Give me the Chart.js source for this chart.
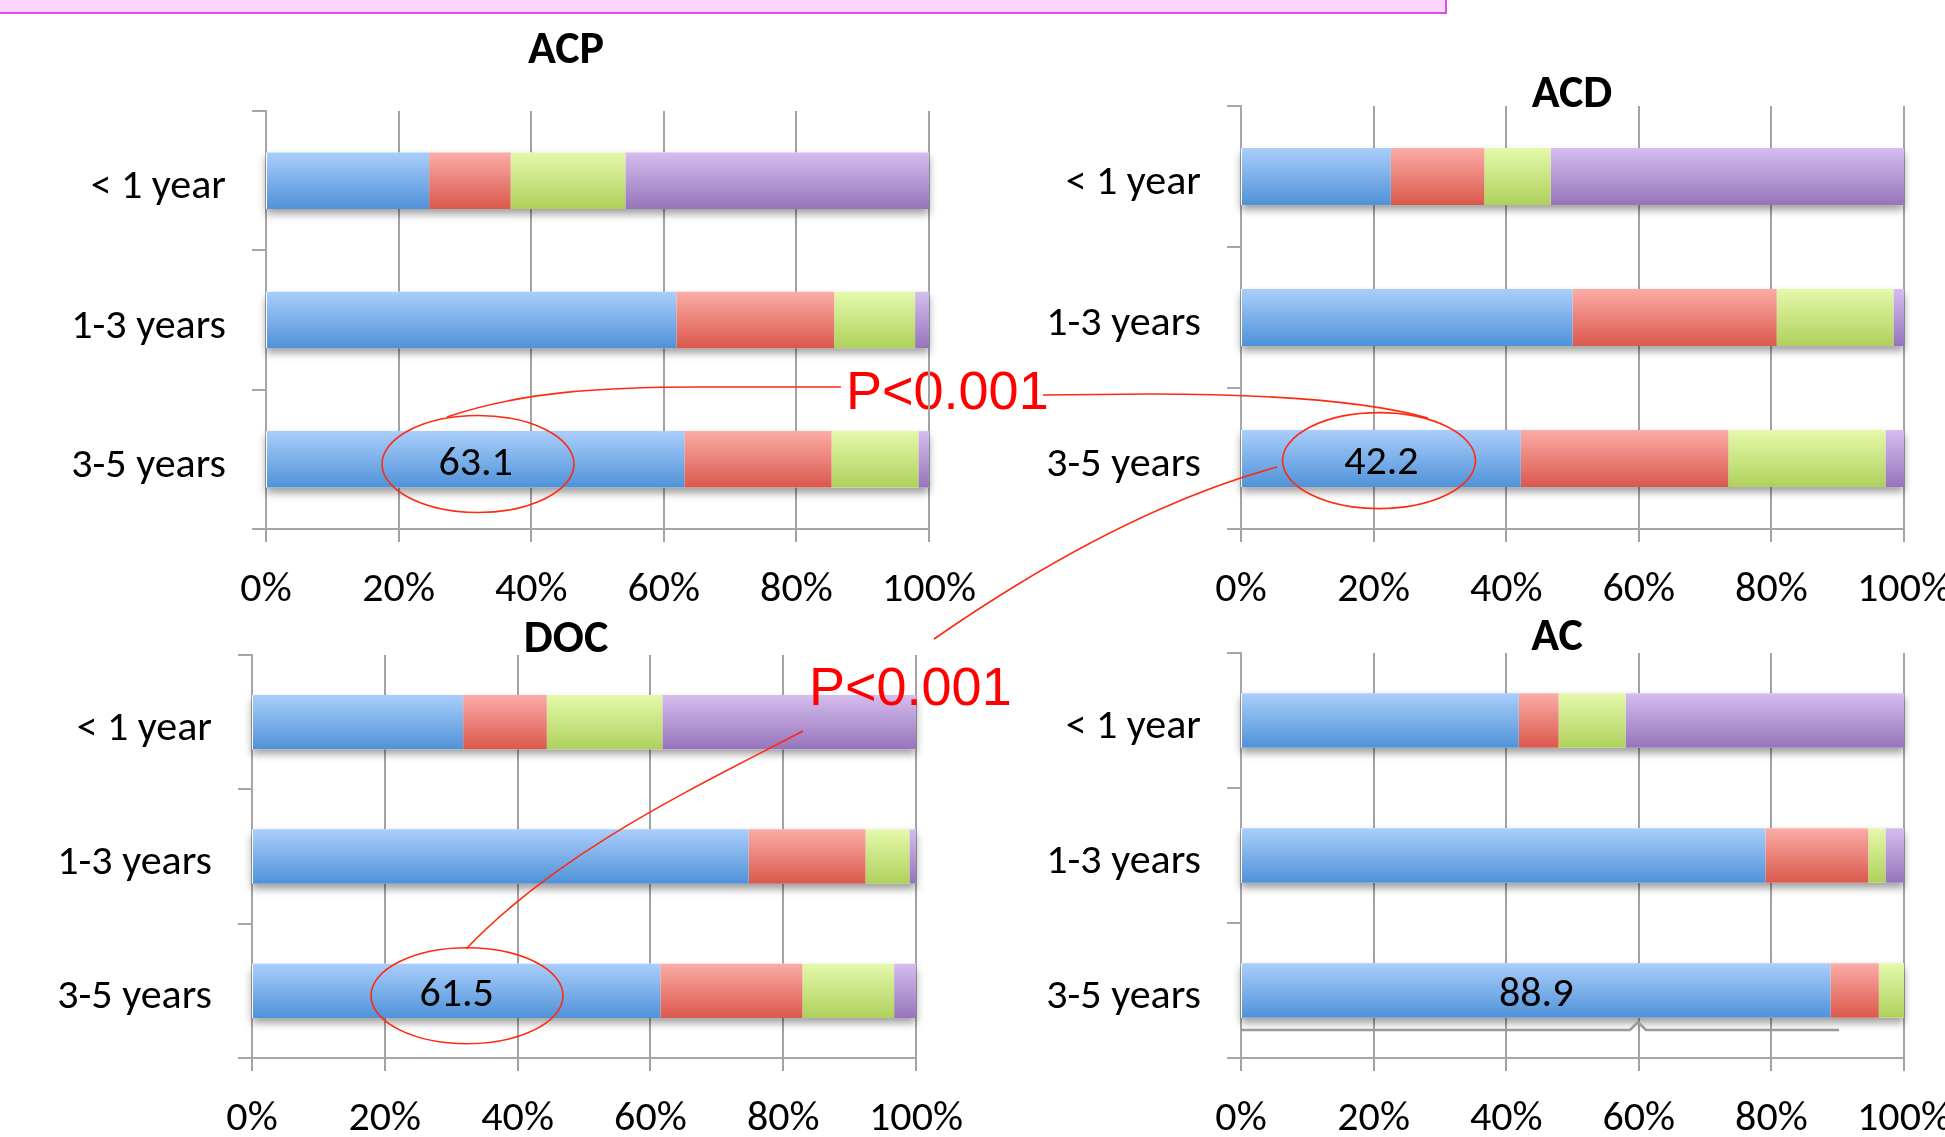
<!DOCTYPE html>
<html><head><meta charset="utf-8">
<script src="https://cdn.jsdelivr.net/npm/chart.js@4.4.0/dist/chart.umd.min.js"></script>
<style>
html,body{margin:0;padding:0;width:1945px;height:1137px;overflow:hidden;background:#fff;position:relative;}
canvas.c{position:absolute;}
#banner{position:absolute;left:-3px;top:-40px;width:1446px;height:50px;background:#FDD5FD;border:2px solid #E34BE6;}
svg.ov{position:absolute;left:0;top:0;}
</style></head><body>
<div id="banner"></div>
<svg class="ov" id="under" width="1945" height="1137">
  <text x="846" y="409" font-family="Liberation Sans, Arial, sans-serif" font-size="54" fill="#FF0000">P&lt;0.001</text>
</svg>
<canvas class="c" id="cACP" width="1131" height="640" style="left:0px;top:0px"></canvas>
<canvas class="c" id="cACD" width="1145" height="640" style="left:1000px;top:0px"></canvas>
<canvas class="c" id="cDOC" width="1131" height="577" style="left:0px;top:560px"></canvas>
<canvas class="c" id="cAC" width="1114" height="577" style="left:1000px;top:560px"></canvas>
<svg class="ov" id="over" width="1945" height="1137">
  <g fill="none" stroke="#FF2A10" stroke-width="1.6">
    <ellipse cx="478" cy="464" rx="96" ry="48.5"/>
    <ellipse cx="1379" cy="460.6" rx="96.5" ry="48"/>
    <ellipse cx="467" cy="995.7" rx="96" ry="48"/>
    <path d="M447,417 C520,392 600,387 700,387 L841,387"/>
    <path d="M1043,395 L1150,394 C1280,394 1370,402 1428,418"/>
    <path d="M1277,467 Q1120,510 934,639"/>
    <path d="M803,731 C700,785 560,850 466,949"/>
  </g>
  <path d="M1241,1030 L1630,1030 L1638,1022 L1646,1030 L1839,1030" fill="none" stroke="#9a9a9a" stroke-width="2.5"/>
  <text x="809" y="705" font-family="Liberation Sans, Arial, sans-serif" font-size="54" fill="#FF0000">P&lt;0.001</text>
</svg>
<script>
// ---- data ----
const categories = ['< 1 year', '1-3 years', '3-5 years'];
const xTickValues = [0, 20, 40, 60, 80, 100];

const acpBlue   = [24.6, 61.9, 63.1];
const acpRed    = [12.3, 23.8, 22.2];
const acpGreen  = [17.3, 12.2, 13.1];
const acpPurple = [45.8,  2.1,  1.6];

const acdBlue   = [22.6, 50.0, 42.2];
const acdRed    = [14.1, 30.8, 31.3];
const acdGreen  = [10.0, 17.6, 23.7];
const acdPurple = [53.3,  1.6,  2.8];

const docBlue   = [31.8, 74.8, 61.5];
const docRed    = [12.6, 17.6, 21.4];
const docGreen  = [17.4,  6.6, 13.8];
const docPurple = [38.2,  1.0,  3.3];

const acBlue    = [41.9, 79.1, 88.9];
const acRed     = [ 6.0, 15.5,  7.3];
const acGreen   = [10.1,  2.6,  3.8];
const acPurple  = [42.0,  2.8,  0.0];

// ---- styling ----
const FONT = 'Carlito, Lato, "Open Sans", sans-serif';
const LABEL_SIZE = 42;
const BAR_PCT = 0.405;
const shades = {
  blue:   ['#AACEFB', '#4F92D8'],
  red:    ['#FBACA7', '#DA584C'],
  green:  ['#E5F9AB', '#AFD05C'],
  purple: ['#D5BDEE', '#9674BB']
};

function grad(pair) {
  return (ctx) => {
    const chart = ctx.chart;
    const ys = chart.scales && chart.scales.y;
    if (!ys || ctx.type !== 'data' || !isFinite(ys.height)) return pair[1];
    const yc = ys.getPixelForValue(ctx.dataIndex);
    const half = ys.height / categories.length * BAR_PCT / 2;
    if (!isFinite(yc)) return pair[1];
    const g = chart.ctx.createLinearGradient(0, yc - half, 0, yc + half);
    g.addColorStop(0, pair[0]);
    g.addColorStop(1, pair[1]);
    return g;
  };
}

const barDecor = {
  id: 'barDecor',
  beforeDatasetsDraw(chart) {
    const ctx = chart.ctx, xs = chart.scales.x;
    const n = chart.data.datasets.length;
    ctx.save();
    ctx.shadowColor = 'rgba(0,0,0,0.38)';
    ctx.shadowBlur = 8;
    ctx.shadowOffsetY = 5;
    ctx.fillStyle = '#ffffff';
    chart.getDatasetMeta(0).data.forEach((el, i) => {
      const left = xs.getPixelForValue(0);
      let right = left;
      for (let d = 0; d < n; d++) {
        const e = chart.getDatasetMeta(d).data[i];
        if (e) right = Math.max(right, e.x);
      }
      ctx.fillRect(left, el.y - el.height / 2, right - left, el.height);
    });
    ctx.restore();
  },
  afterDatasetsDraw(chart, args, opts) {
    if (opts.labelIndex == null) return;
    const el = chart.getDatasetMeta(0).data[opts.labelIndex];
    const v = chart.data.datasets[0].data[opts.labelIndex];
    const ctx = chart.ctx;
    ctx.save();
    ctx.font = LABEL_SIZE + 'px ' + FONT;
    ctx.fillStyle = '#000';
    ctx.textAlign = 'center';
    ctx.textBaseline = 'middle';
    ctx.fillText(v.toFixed(1), (el.x + el.base) / 2, el.y + 5);
    ctx.restore();
  },
  afterDraw(chart, args, opts) {
    if (!opts.title) return;
    const ctx = chart.ctx;
    ctx.save();
    ctx.font = 'bold 46px ' + FONT;
    ctx.fillStyle = '#000';
    ctx.textAlign = 'center';
    ctx.textBaseline = 'middle';
    ctx.fillText(opts.title, opts.titleX, opts.titleY);
    ctx.restore();
  }
};

function makeChart(id, title, blue, red, green, purple, L) {
  const yWidth = L.plotL - L.left;
  const xHeight = (L.top + L.h) - L.plotB;
  const padRight = (L.left + L.w) - L.plotR;
  const ds = (label, data, pair) => ({
    label, data, backgroundColor: grad(pair), borderWidth: 0,
    barPercentage: BAR_PCT, categoryPercentage: 1
  });
  return new Chart(document.getElementById(id), {
    type: 'bar',
    data: {
      labels: categories,
      datasets: [
        ds('Series 1', blue, shades.blue),
        ds('Series 2', red, shades.red),
        ds('Series 3', green, shades.green),
        ds('Series 4', purple, shades.purple)
      ]
    },
    options: {
      indexAxis: 'y',
      responsive: false,
      animation: false,
      events: [],
      layout: { padding: { left: 0, top: L.plotT - L.top, bottom: 0, right: padRight } },
      plugins: {
        legend: { display: false },
        tooltip: { enabled: false },
        title: { display: false },
        barDecor: {
          labelIndex: L.labelIndex, title: title,
          titleX: L.titleX - L.left, titleY: L.titleY - L.top + 3
        }
      },
      scales: {
        x: {
          stacked: true, min: 0, max: 100,
          afterFit: (s) => { s.height = xHeight; },
          afterBuildTicks: (s) => { s.ticks = xTickValues.map(v => ({ value: v })); },
          ticks: {
            color: '#000', padding: 23, maxRotation: 0,
            font: { family: FONT, size: LABEL_SIZE },
            callback: (v) => v + '%'
          },
          grid: { color: '#a3a3a3', lineWidth: 2, tickLength: 13, drawTicks: true },
          border: { display: true, color: '#a6a6a6', width: 2 }
        },
        y: {
          stacked: true,
          afterFit: (s) => { s.width = yWidth; },
          ticks: { color: '#000', padding: 26, labelOffset: 7, font: { family: FONT, size: LABEL_SIZE } },
          grid: { drawOnChartArea: false, drawTicks: true, tickLength: 14, color: '#a6a6a6', lineWidth: 2, offset: true },
          border: { display: true, color: '#a6a6a6', width: 2 }
        }
      }
    },
    plugins: [barDecor]
  });
}

makeChart('cACP', 'ACP', acpBlue, acpRed, acpGreen, acpPurple,
  { left: 0, top: 0, w: 1131, h: 640, plotL: 266, plotT: 111, plotR: 929, plotB: 529, titleX: 566, titleY: 48, labelIndex: 2 });
makeChart('cACD', 'ACD', acdBlue, acdRed, acdGreen, acdPurple,
  { left: 1000, top: 0, w: 1145, h: 640, plotL: 1241, plotT: 106, plotR: 1904, plotB: 529, titleX: 1572, titleY: 92, labelIndex: 2 });
makeChart('cDOC', 'DOC', docBlue, docRed, docGreen, docPurple,
  { left: 0, top: 560, w: 1131, h: 577, plotL: 252, plotT: 655, plotR: 916, plotB: 1058, titleX: 566, titleY: 637, labelIndex: 2 });
makeChart('cAC', 'AC', acBlue, acRed, acGreen, acPurple,
  { left: 1000, top: 560, w: 1114, h: 577, plotL: 1241, plotT: 653, plotR: 1904, plotB: 1058, titleX: 1557, titleY: 635, labelIndex: 2 });
</script>
</body></html>
